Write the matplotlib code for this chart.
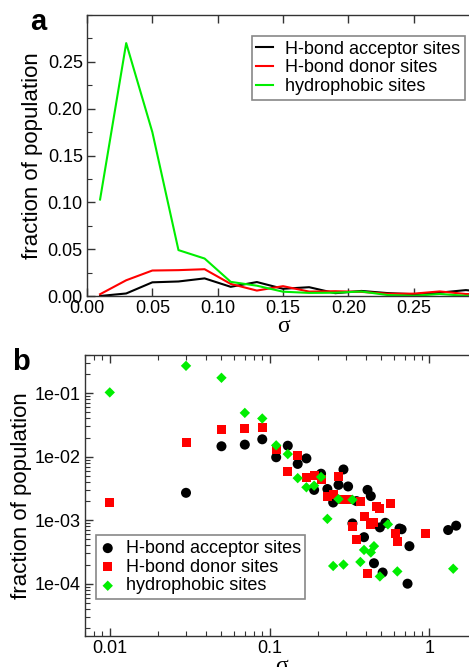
import numpy as np
import matplotlib
matplotlib.use("Agg")
import matplotlib.pyplot as plt
from matplotlib.ticker import (MultipleLocator, LogLocator, NullFormatter,
                               FixedLocator, FixedFormatter)

plt.rcParams['font.family'] = ['Liberation Sans', 'DejaVu Sans']

# sigma bin centres and population fractions for each site type
sig_acc = [0.01, 0.03, 0.05, 0.07, 0.09, 0.11, 0.13, 0.15, 0.17, 0.19, 0.21, 0.23,
           0.25, 0.27, 0.29, 0.31, 0.33, 0.35, 0.39, 0.41, 0.43, 0.45, 0.49, 0.51,
           0.53, 0.65, 0.67, 0.73, 0.75, 1.31, 1.47]
frac_acc = [0.0, 0.0027, 0.0146, 0.0155, 0.0188, 0.0098, 0.0149, 0.0077, 0.0094,
            0.0030, 0.0054, 0.0031, 0.0019, 0.0036, 0.0063, 0.0034, 0.00089, 0.0020,
            0.00054, 0.0030, 0.0024, 0.00021, 0.00077, 0.00015, 0.00091, 0.00074,
            0.00072, 0.0001, 0.00039, 0.0007, 0.00082]

sig_don = [0.01, 0.03, 0.05, 0.07, 0.09, 0.11, 0.13, 0.15, 0.17, 0.19, 0.21, 0.23,
           0.25, 0.27, 0.29, 0.31, 0.33, 0.35, 0.37, 0.39, 0.41, 0.43, 0.45, 0.47,
           0.49, 0.57, 0.61, 0.63, 0.95]
frac_don = [0.0019, 0.0168, 0.0272, 0.0276, 0.0286, 0.0129, 0.0058, 0.0105, 0.0047,
            0.0051, 0.0044, 0.0024, 0.0025, 0.0049, 0.0021, 0.0021, 0.00081, 0.0005,
            0.0020, 0.00114, 0.000147, 0.00085, 0.00091, 0.00167, 0.00151, 0.00184,
            0.00062, 0.00046, 0.00062]

sig_hyd = [0.01, 0.03, 0.05, 0.07, 0.09, 0.11, 0.13, 0.15, 0.17, 0.19, 0.21, 0.23,
           0.25, 0.27, 0.29, 0.33, 0.37, 0.39, 0.43, 0.45, 0.49, 0.55, 0.63, 1.41]
frac_hyd = [0.103, 0.27, 0.175, 0.049, 0.040, 0.0151, 0.011, 0.0046, 0.0033, 0.0035,
            0.0048, 0.00105, 0.00019, 0.00215, 0.0002, 0.0021, 0.00022, 0.00034,
            0.00031, 0.00039, 0.00013, 0.00086, 0.000156, 0.000172]

labels = ['H-bond acceptor sites', 'H-bond donor sites', 'hydrophobic sites']
colors = ['black', '#ff0000', '#00ee00']
series = [(sig_acc, frac_acc), (sig_don, frac_don), (sig_hyd, frac_hyd)]

lin_ticks = [0.0, 0.05, 0.10, 0.15, 0.20, 0.25]
lin_labels = ['0.00', '0.05', '0.10', '0.15', '0.20', '0.25']
log_xticks = [0.01, 0.1, 1]
log_xlabels = ['0.01', '0.1', '1']
log_yticks = [1e-4, 1e-3, 1e-2, 1e-1]
log_ylabels = ['1e-04', '1e-03', '1e-02', '1e-01']

W, H = 469, 667
fig = plt.figure(figsize=(W / 100, H / 100), dpi=100)

spine_col = '#333333'
fs = 13


def style_axes(ax):
    for s in ax.spines.values():
        s.set_color(spine_col)
        s.set_linewidth(1.0)
    ax.tick_params(which='both', direction='in', top=True, right=True,
                   colors=spine_col, labelcolor='black', labelsize=fs)
    ax.tick_params(which='major', length=6, width=1.0, pad=3)
    ax.tick_params(which='minor', length=3.5, width=0.8)


# panel a: linear scale
ax1 = fig.add_axes([87 / W, 1 - 296 / H, (479 - 87) / W, (296 - 15) / H])
for (x, y), c, lab in zip(series, colors, labels):
    ax1.plot(x, y, color=c, lw=1.5, label=lab)
ax1.set_xlim(0, 0.3)
ax1.set_ylim(0, 0.3)
ax1.xaxis.set_major_locator(FixedLocator(lin_ticks))
ax1.xaxis.set_major_formatter(FixedFormatter(lin_labels))
ax1.yaxis.set_major_locator(FixedLocator(lin_ticks))
ax1.yaxis.set_major_formatter(FixedFormatter(lin_labels))
ax1.yaxis.set_minor_locator(MultipleLocator(0.025))
style_axes(ax1)
ax1.set_ylabel('fraction of population', fontsize=16, labelpad=3)
ax1.set_xlabel('σ', fontsize=17, family='Liberation Serif', labelpad=-1)
leg1 = ax1.legend(loc='upper right', bbox_to_anchor=(465 / W, 1 - 36 / H),
                  bbox_transform=fig.transFigure, borderaxespad=0, fontsize=fs,
                  handlelength=0.9, handletextpad=0.7, labelspacing=0.1,
                  borderpad=0.25, fancybox=False, framealpha=1)
leg1.get_frame().set_edgecolor('#888888')
leg1.get_frame().set_linewidth(1.2)
fig.text(38 / W, 1 - 22 / H, 'a', fontsize=21, fontweight='bold', ha='center', va='center')

# panel b: log-log scatter
ax2 = fig.add_axes([85 / W, 1 - 636 / H, (477.5 - 85) / W, (636 - 355) / H])
markers = ['o', 's', 'D']
sizes = [52, 42, 28]
for (x, y), c, lab, m, s in zip(series, colors, labels, markers, sizes):
    x = np.array(x)
    y = np.array(y)
    keep = y > 0
    ax2.scatter(x[keep], y[keep], s=s, marker=m, color=c, edgecolors='none',
                label=lab, zorder=3)
ax2.set_xscale('log')
ax2.set_yscale('log')
ax2.set_xlim(0.007, 2)
ax2.set_ylim(1.5e-5, 0.4)
ax2.xaxis.set_major_locator(FixedLocator(log_xticks))
ax2.xaxis.set_major_formatter(FixedFormatter(log_xlabels))
ax2.xaxis.set_minor_locator(LogLocator(base=10, subs=np.arange(2, 10), numticks=20))
ax2.xaxis.set_minor_formatter(NullFormatter())
ax2.yaxis.set_major_locator(FixedLocator(log_yticks))
ax2.yaxis.set_major_formatter(FixedFormatter(log_ylabels))
ax2.yaxis.set_minor_locator(LogLocator(base=10, subs=np.arange(2, 10), numticks=20))
ax2.yaxis.set_minor_formatter(NullFormatter())
style_axes(ax2)
ax2.set_ylabel('fraction of population', fontsize=16, labelpad=2)
ax2.set_xlabel('σ', fontsize=17, family='Liberation Serif', labelpad=-1)
leg2 = ax2.legend(loc='lower left', bbox_to_anchor=(96 / W, 1 - 599 / H),
                  bbox_transform=fig.transFigure, borderaxespad=0, fontsize=fs,
                  handlelength=0.8, handletextpad=0.6, labelspacing=0.1,
                  borderpad=0.25, fancybox=False, framealpha=1, scatterpoints=1)
leg2.get_frame().set_edgecolor('#888888')
leg2.get_frame().set_linewidth(1.2)
fig.text(21 / W, 1 - 362 / H, 'b', fontsize=21, fontweight='bold', ha='center', va='center')

fig.savefig('out.png', dpi=100)
